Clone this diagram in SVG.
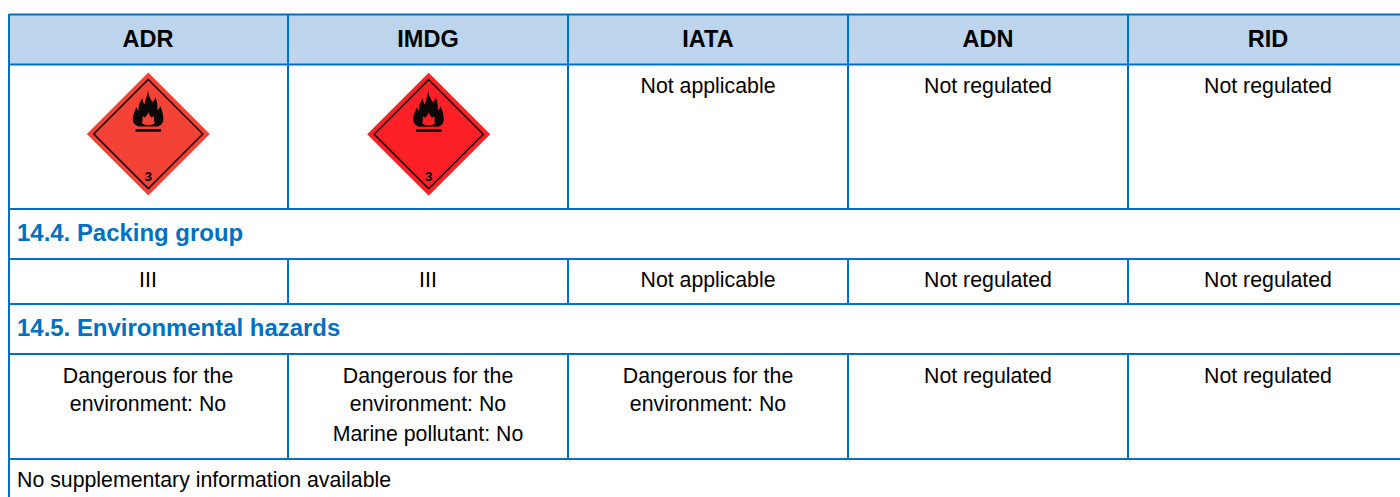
<svg xmlns="http://www.w3.org/2000/svg" width="1400" height="497" viewBox="0 0 1400 497">
<style>
text{font-family:"Liberation Sans",Arial,sans-serif;fill:#000;font-size:21.3px}
.c{text-anchor:middle}
.h{font-weight:bold;font-size:23.5px;text-anchor:middle}
.s{font-weight:bold;font-size:23.95px;fill:#0070c0}
.l{stroke:#0070c0;stroke-width:2;fill:none}
.o{fill:none;stroke:#1a0a08;stroke-width:1.6}
.n{font-size:13.500px;font-weight:bold;text-anchor:middle}
</style>
<defs>
<g id="flame">
<path fill="#0c0807" d="M0-45C-1-40 2-36 4-32C5.500-33 6.500-34.500 7-37C9-33 9.500-28 9-24C10.500-25 11.500-26.500 12-28C14-23 15.500-18 15-14C14.500-10 12-8 9-7.500H-9C-12-8 -15-10 -15.500-14C-16-19 -13-23 -12-27C-11-25 -10.500-24 -9.500-23C-10.500-28 -8.500-32 -6-36C-5.500-33 -5-31 -4-29.500C-2.500-34 -1-40 0-45Z"/>
<path d="M0-22C1-19 2-18 3.500-16.500L6-18C5.500-15 5.500-13.500 6.500-11C5-9.500 3-9 0-9C-3-9 -5-9.500 -6.500-11C-5.500-13.500 -5.500-15 -6-18L-3.500-16.500C-2-18 -1-19 0-22Z"/>
<rect x="-12.700" y="-5" width="25.500" height="2.800" fill="#0c0807"/>
</g>
</defs>
<rect id="header-band" x="9" y="15" width="1391" height="49" fill="#bdd5ec"/>
<g id="connectors">
<path class="l" d="M9 14.500H1400M9 64.500H1400M9 209H1400M9 259H1400M9 304H1400M9 354H1400M9 459H1400"/>
<path class="l" d="M9 14V497M288 14V209M568 14V209M848 14V209M1128 14V209M288 259V304M568 259V304M848 259V304M1128 259V304M288 354V459M568 354V459M848 354V459M1128 354V459"/>
</g>
<g id="head-adr"><text class="h" x="148" y="46.500">ADR</text></g>
<g id="head-imdg"><text class="h" x="428" y="46.500">IMDG</text></g>
<g id="head-iata"><text class="h" x="708" y="46.500">IATA</text></g>
<g id="head-adn"><text class="h" x="988" y="46.500">ADN</text></g>
<g id="head-rid"><text class="h" x="1268" y="46.500">RID</text></g>
<g id="label-adr" transform="translate(148.300 134)">
<path d="M0-61.500L61.500 0L0 61.500L-61.500 0Z" fill="#f44336"/>
<path d="M0-54.500L54.500 0L0 54.500L-54.500 0Z" class="o"/>
<use href="#flame" fill="#f44336"/>
<text class="n" y="46.500">3</text>
</g>
<g id="label-imdg" transform="translate(428.700 134.200)">
<path d="M0-61.500L61.500 0L0 61.500L-61.500 0Z" fill="#ff1f27"/>
<path d="M0-54.500L54.500 0L0 54.500L-54.500 0Z" class="o"/>
<use href="#flame" fill="#ff1f27"/>
<text class="n" y="46.500">3</text>
</g>
<g id="label-iata"><text class="c" x="708" y="93.300">Not applicable</text></g>
<g id="label-adn"><text class="c" x="988" y="93.300">Not regulated</text></g>
<g id="label-rid"><text class="c" x="1268" y="93.300">Not regulated</text></g>
<g id="section-144"><text class="s" x="17" y="240.500">14.4. Packing group</text></g>
<g id="pg-adr"><text class="c" x="148" y="287.300">III</text></g>
<g id="pg-imdg"><text class="c" x="428" y="287.300">III</text></g>
<g id="pg-iata"><text class="c" x="708" y="287.300">Not applicable</text></g>
<g id="pg-adn"><text class="c" x="988" y="287.300">Not regulated</text></g>
<g id="pg-rid"><text class="c" x="1268" y="287.300">Not regulated</text></g>
<g id="section-145"><text class="s" x="17" y="335.500">14.5. Environmental hazards</text></g>
<g id="env-adr"><text class="c" x="148" y="383.300">Dangerous for the</text><text class="c" x="148" y="411.300">environment: No</text></g>
<g id="env-imdg"><text class="c" x="428" y="383.300">Dangerous for the</text><text class="c" x="428" y="411.300">environment: No</text><text class="c" x="428" y="441.300">Marine pollutant: No</text></g>
<g id="env-iata"><text class="c" x="708" y="383.300">Dangerous for the</text><text class="c" x="708" y="411.300">environment: No</text></g>
<g id="env-adn"><text class="c" x="988" y="383.300">Not regulated</text></g>
<g id="env-rid"><text class="c" x="1268" y="383.300">Not regulated</text></g>
<g id="note"><text x="17" y="487">No supplementary information available</text></g>
</svg>
